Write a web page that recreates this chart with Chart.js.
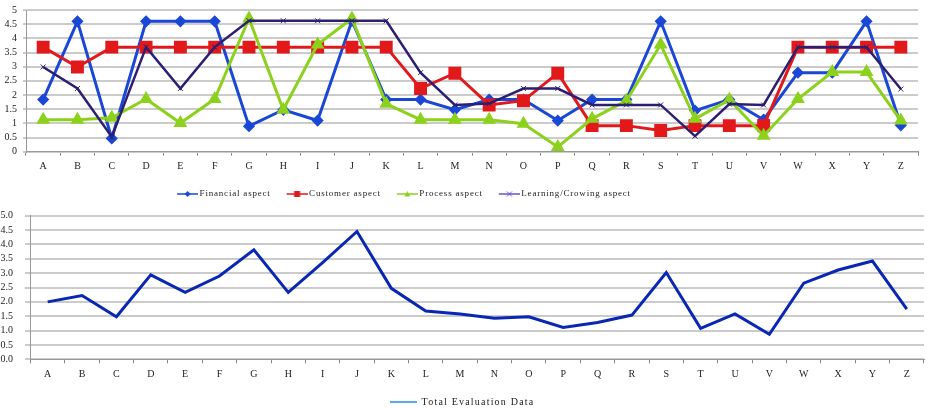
<!DOCTYPE html>
<html>
<head>
<meta charset="utf-8">
<script src="https://cdn.jsdelivr.net/npm/chart.js@4.4.1/dist/chart.umd.min.js"></script>
<style>
  html, body { margin: 0; padding: 0; background: #fff; overflow: hidden; }
  #top-wrap { position: absolute; left: 0; top: 0; }
  #bottom-wrap { position: absolute; left: 0; top: 205px; }
</style>
</head>
<body>
<div id="top-wrap"><canvas id="aspect-chart" width="928" height="210"></canvas></div>
<div id="bottom-wrap"><canvas id="total-chart" width="928" height="215"></canvas></div>
<script>
const labels = ['A','B','C','D','E','F','G','H','I','J','K','L','M','N','O','P','Q','R','S','T','U','V','W','X','Y','Z'];

const financial = [1.84, 4.6, 0.47, 4.6, 4.6, 4.6, 0.9, 1.48, 1.1, 4.62, 1.84, 1.84, 1.48, 1.84, 1.84, 1.1, 1.84, 1.84, 4.6, 1.45, 1.84, 1.13, 2.79, 2.79, 4.6, 0.93];
const customer = [3.69, 2.99, 3.69, 3.69, 3.69, 3.69, 3.69, 3.69, 3.69, 3.69, 3.69, 2.23, 2.77, 1.65, 1.8, 2.77, 0.92, 0.92, 0.75, 0.92, 0.92, 0.92, 3.69, 3.69, 3.69, 3.69];
const processAsp = [1.13, 1.13, 1.2, 1.86, 1.01, 1.86, 4.7, 1.48, 3.78, 4.7, 1.69, 1.13, 1.13, 1.13, 0.99, 0.17, 1.16, 1.8, 3.78, 1.16, 1.83, 0.56, 1.86, 2.81, 2.81, 1.1];
const learning = [2.99, 2.23, 0.52, 3.69, 2.23, 3.69, 4.62, 4.62, 4.62, 4.62, 4.62, 2.79, 1.65, 1.7, 2.23, 2.23, 1.65, 1.65, 1.65, 0.55, 1.68, 1.65, 3.69, 3.69, 3.69, 2.21];

const total = [2.0, 2.22, 1.48, 2.94, 2.33, 2.9, 3.81, 2.33, 3.37, 4.45, 2.47, 1.68, 1.58, 1.43, 1.48, 1.11, 1.28, 1.54, 3.02, 1.08, 1.58, 0.87, 2.65, 3.11, 3.42, 1.75];

const seriesNames = ['Financial aspect', 'Customer aspect', 'Process aspect', 'Learning/Crowing aspect'];
const totalName = 'Total Evaluation Data';

const FONT = "'Liberation Serif', 'Times New Roman', serif";

// little legend pictures: a line with the marker in its middle
function makeIcon(color, marker, w, h, lineStart, lineLen, lw) {
    const c = document.createElement('canvas');
    c.width = w; c.height = h;
    const g = c.getContext('2d');
    const cy = h / 2;
    g.strokeStyle = color; g.fillStyle = color; g.lineWidth = lw;
    g.beginPath(); g.moveTo(lineStart, cy); g.lineTo(lineStart + lineLen, cy); g.stroke();
    const cx = lineStart + lineLen / 2;
    g.beginPath();
    if (marker === 'diamond') {
        g.moveTo(cx, cy - 3); g.lineTo(cx + 3, cy); g.lineTo(cx, cy + 3); g.lineTo(cx - 3, cy); g.closePath(); g.fill();
    } else if (marker === 'square') {
        g.fillRect(cx - 3, cy - 3, 6, 6);
    } else if (marker === 'triangle') {
        g.moveTo(cx, cy - 3); g.lineTo(cx + 3, cy + 2.5); g.lineTo(cx - 3, cy + 2.5); g.closePath(); g.fill();
    } else if (marker === 'cross') {
        g.lineWidth = 1;
        g.moveTo(cx - 2.5, cy - 2.5); g.lineTo(cx + 2.5, cy + 2.5);
        g.moveTo(cx + 2.5, cy - 2.5); g.lineTo(cx - 2.5, cy + 2.5); g.stroke();
    }
    return c;
}

// shifts the legend sideways and gives its text some letter spacing
const legendTweak = {
    id: 'legendTweak',
    beforeLayout(chart, args, opts) { chart.ctx.letterSpacing = opts.spacing + 'px'; },
    afterLayout(chart, args, opts) {
        chart.ctx.letterSpacing = '0px';
        const lg = chart.legend;
        lg.left += opts.shift; lg.right += opts.shift;
        if (!lg._tweaked) {
            const draw = lg.draw.bind(lg);
            lg.draw = function () {
                chart.ctx.letterSpacing = opts.spacing + 'px';
                draw();
                chart.ctx.letterSpacing = '0px';
            };
            lg._tweaked = true;
        }
    }
};

const colors = ['#1a47d6', '#e2191b', '#8cd11b', '#2d1e72'];
const markers = ['diamond', 'square', 'triangle', 'cross'];
const topIcons = colors.map((c, i) => makeIcon(i === 3 ? '#6a55c0' : c, markers[i], 34, 10, 13, 21, 1.5));
const totalIcon = makeIcon('#5aa9e6', null, 27, 10, 0, 27, 2);

function iconLabels(icons) {
    return chart => chart.data.datasets.map((ds, i) => ({
        text: ds.label,
        pointStyle: icons[i],
        datasetIndex: i,
        hidden: false,
        lineWidth: 0,
        strokeStyle: 'rgba(0,0,0,0)',
        fillStyle: 'rgba(0,0,0,0)',
        fontColor: '#222'
    }));
}

// y axis: fixed width, no extra room for the end labels
function fitY(width) {
    return scale => {
        scale.width = width;
        scale.paddingTop = 0;
        scale.paddingBottom = 0;
    };
}

// Top chart: the four aspects
new Chart(document.querySelector('#aspect-chart').getContext('2d'), {
    type: 'line',
    data: {
        labels: labels,
        datasets: [
            { label: seriesNames[0], data: financial, borderColor: colors[0], backgroundColor: colors[0],
              borderWidth: 3, pointStyle: 'rectRot', pointRadius: 4, order: 4 },
            { label: seriesNames[1], data: customer, borderColor: colors[1], backgroundColor: colors[1],
              borderWidth: 3, pointStyle: 'rect', pointRadius: 7, order: 3 },
            { label: seriesNames[2], data: processAsp, borderColor: colors[2], backgroundColor: colors[2],
              borderWidth: 3, pointStyle: 'triangle', pointRadius: 5, order: 2 },
            { label: seriesNames[3], data: learning, borderColor: colors[3], backgroundColor: colors[3],
              borderWidth: 2.5, pointStyle: 'crossRot', pointRadius: 3.5, pointBorderWidth: 1, order: 1 }
        ]
    },
    options: {
        responsive: false,
        animation: false,
        layout: { padding: { top: 8.3, right: 2, bottom: 1.5, left: 0 } },
        plugins: {
            tooltip: { enabled: false },
            legend: {
                position: 'bottom',
                labels: {
                    usePointStyle: true, pointStyleWidth: 28, padding: 6,
                    font: { family: FONT, size: 9 }, color: '#222',
                    generateLabels: iconLabels(topIcons)
                }
            },
            legendTweak: { shift: -64, spacing: 0.8 }
        },
        scales: {
            x: {
                offset: true,
                grid: { offset: true, drawOnChartArea: false, drawTicks: true, tickLength: 4, color: '#888' },
                border: { color: '#999', width: 1 },
                ticks: { font: { family: FONT, size: 10 }, color: '#222', padding: 5, maxRotation: 0, autoSkip: false },
                afterFit(scale) { scale.height = 31.8; }
            },
            y: {
                min: 0, max: 5,
                ticks: { stepSize: 0.5, autoSkip: false, font: { family: FONT, size: 10 }, color: '#222', padding: 6,
                         callback: v => String(v) },
                grid: { color: '#cbcbcb', lineWidth: 2, tickLength: 3 },
                border: { color: '#999', width: 1 },
                afterFit: fitY(26)
            }
        }
    },
    plugins: [legendTweak]
});

// Bottom chart: total evaluation
new Chart(document.querySelector('#total-chart').getContext('2d'), {
    type: 'line',
    data: {
        labels: labels,
        datasets: [{
            label: totalName, data: total, borderColor: '#0a27b4', backgroundColor: '#0a27b4',
            borderWidth: 3, pointRadius: 0
        }]
    },
    options: {
        responsive: false,
        animation: false,
        layout: { padding: { top: 10.7, right: 4, bottom: 3, left: 0 } },
        plugins: {
            tooltip: { enabled: false },
            legend: {
                position: 'bottom',
                labels: {
                    usePointStyle: true, pointStyleWidth: 27, padding: 6,
                    font: { family: FONT, size: 10 }, color: '#222',
                    generateLabels: iconLabels([totalIcon])
                }
            },
            legendTweak: { shift: 0, spacing: 1.2 }
        },
        scales: {
            x: {
                offset: true,
                grid: { offset: true, drawOnChartArea: false, drawTicks: true, tickLength: 4, color: '#888' },
                border: { color: '#999', width: 1 },
                ticks: { font: { family: FONT, size: 10 }, color: '#222', padding: 5, maxRotation: 0, autoSkip: false },
                afterFit(scale) { scale.height = 31.7; }
            },
            y: {
                min: 0, max: 5,
                ticks: { stepSize: 0.5, autoSkip: false, font: { family: FONT, size: 10 }, color: '#222', padding: 12,
                         callback: v => v.toFixed(1) },
                grid: { color: '#cbcbcb', lineWidth: 2, tickLength: 5.5 },
                border: { color: '#999', width: 1 },
                afterFit: fitY(30.5)
            }
        }
    },
    plugins: [legendTweak]
});
</script>
</body>
</html>
